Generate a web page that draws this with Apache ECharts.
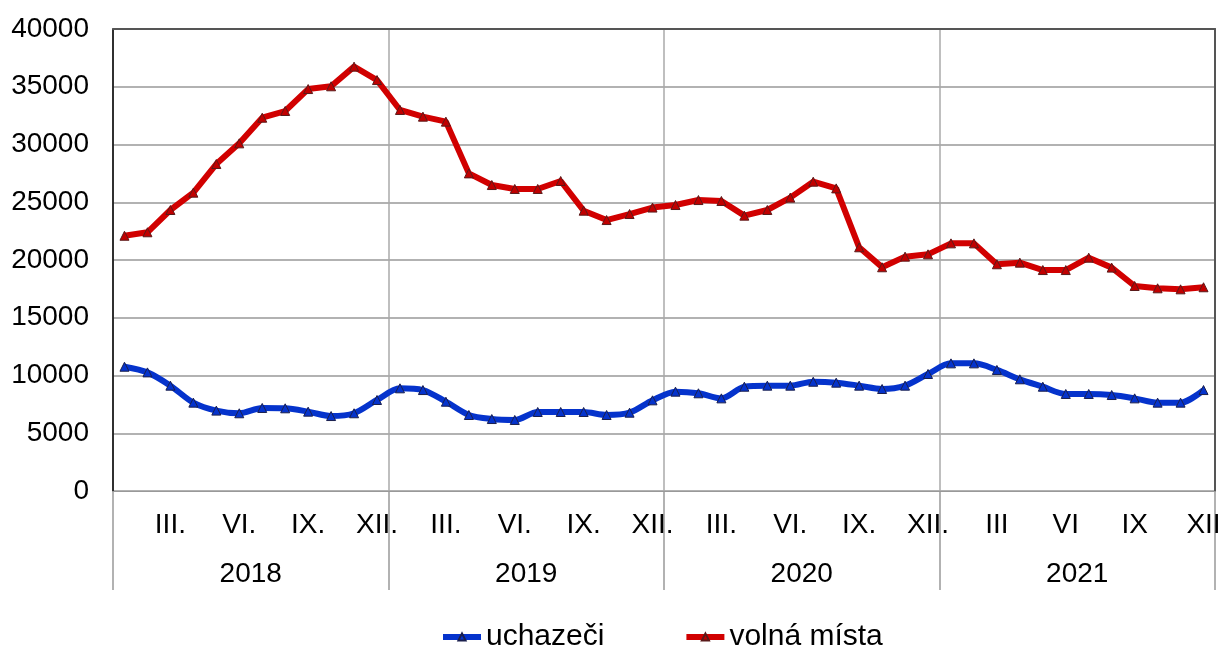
<!DOCTYPE html>
<html>
<head>
<meta charset="utf-8">
<script src="https://cdn.jsdelivr.net/npm/echarts@6/dist/echarts.min.js"></script>
<style>
  html, body { margin: 0; padding: 0; background: #fff; }
  #chart { width: 1218px; height: 659px; }
</style>
</head>
<body>
<div id="chart"></div>
<script>
// měsíce (popisky jen u III, VI, IX, XII)
const monthLabels = [
  '', '', 'III.', '', '', 'VI.', '', '', 'IX.', '', '', 'XII.',
  '', '', 'III.', '', '', 'VI.', '', '', 'IX.', '', '', 'XII.',
  '', '', 'III.', '', '', 'VI.', '', '', 'IX.', '', '', 'XII.',
  '', '', 'III', '', '', 'VI', '', '', 'IX', '', '', 'XII'
];
const years = ['2018', '2019', '2020', '2021'];

const uchazeci = [
  10760, 10270, 9120, 7650, 6960, 6730, 7190, 7160, 6870, 6490, 6730, 7880,
  8890, 8740, 7730, 6580, 6230, 6150, 6840, 6840, 6840, 6580, 6780, 7850,
  8600, 8460, 8020, 9030, 9120, 9120, 9460, 9380, 9120, 8830, 9120, 10130,
  11050, 11050, 10480, 9670, 9030, 8400, 8400, 8310, 8020, 7650, 7650, 8740
];
const volnaMista = [
  22100, 22400, 24330, 25830, 28310, 30100, 32320, 32900, 34800, 35040, 36740, 35580,
  32990, 32410, 31980, 27500, 26490, 26150, 26150, 26840, 24270, 23460, 23980, 24540,
  24760, 25190, 25110, 23840, 24330, 25400, 26780, 26200, 21100, 19370, 20290, 20490,
  21440, 21440, 19630, 19770, 19130, 19130, 20200, 19340, 17750, 17550, 17460, 17640
];

const font = '"Liberation Sans", Arial, sans-serif';

let chart = echarts.init(document.getElementById('chart'));
chart.setOption({
  animation: false,
  textStyle: { fontFamily: font },
  grid: { left: 113, right: 3, top: 29, bottom: 168, containLabel: false, outerBoundsMode: 'none' },
  legend: {
    left: 435,
    bottom: 2,
    itemWidth: 38,
    itemHeight: 9,
    itemGap: 79,
    lineStyle: { width: 6 },
    textStyle: { fontSize: 30, color: '#000', fontFamily: font },
    data: ['uchazeči', 'volná místa']
  },
  xAxis: [
    {
      type: 'category',
      data: monthLabels,
      boundaryGap: true,
      axisLine: { lineStyle: { color: '#999', width: 1 } },
      axisTick: { show: false },
      axisLabel: { interval: 0, fontSize: 28, color: '#000', margin: 20 },
      splitLine: { show: false }
    },
    {
      // roky
      type: 'category',
      data: years,
      position: 'bottom',
      boundaryGap: true,
      axisLine: { show: false },
      axisTick: { show: true, length: 99, lineStyle: { color: '#999', width: 1.5 } },
      axisLabel: { fontSize: 28, color: '#000', margin: 69 },
      splitLine: { show: true, lineStyle: { color: '#aaa', width: 1.5 } }
    },
    {
      // horní okraj
      type: 'category',
      data: years,
      position: 'top',
      axisLine: { show: true, lineStyle: { color: '#555', width: 2 } },
      axisTick: { show: false },
      axisLabel: { show: false }
    }
  ],
  yAxis: [
    {
      type: 'value',
      min: 0,
      max: 40000,
      interval: 5000,
      axisLine: { show: true, lineStyle: { color: '#000', width: 1.5 } },
      axisTick: { show: false },
      axisLabel: { fontSize: 28, color: '#000', margin: 24, formatter: v => String(v) },
      splitLine: { lineStyle: { color: '#999', width: 1.5 } }
    },
    {
      // pravý okraj
      type: 'value',
      position: 'right',
      min: 0,
      max: 40000,
      interval: 5000,
      axisLine: { show: true, lineStyle: { color: '#555', width: 2 } },
      axisTick: { show: false },
      axisLabel: { show: false },
      splitLine: { show: false }
    }
  ],
  series: [
    {
      name: 'uchazeči',
      type: 'line',
      data: uchazeci,
      smooth: 0.3,
      symbol: 'triangle',
      symbolSize: 9,
      lineStyle: { color: '#0533cc', width: 6 },
      itemStyle: { color: '#0533cc', borderColor: '#1a1f4d', borderWidth: 1 }
    },
    {
      name: 'volná místa',
      type: 'line',
      data: volnaMista,
      smooth: false,
      symbol: 'triangle',
      symbolSize: 9,
      lineStyle: { color: '#d10000', width: 6 },
      itemStyle: { color: '#c00000', borderColor: '#5a1a1a', borderWidth: 1 }
    }
  ]
});
</script>
</body>
</html>
